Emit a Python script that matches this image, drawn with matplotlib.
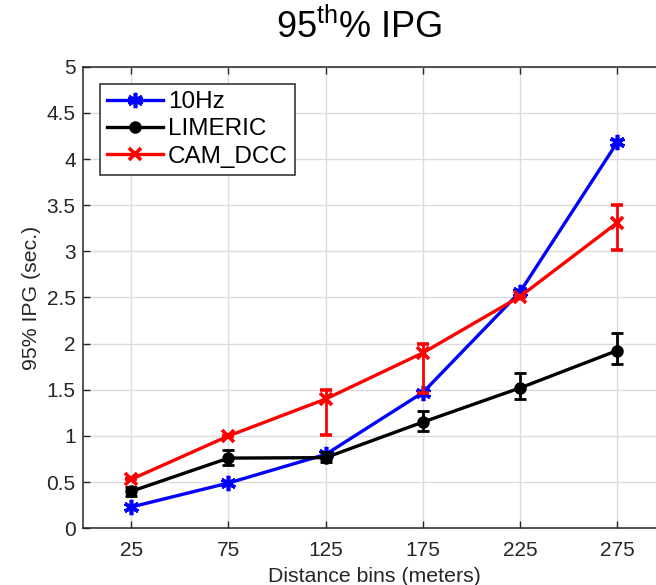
import numpy as np
import matplotlib
matplotlib.use("Agg")
import matplotlib.pyplot as plt

plt.rcParams['font.family'] = ['Liberation Sans', 'DejaVu Sans']
plt.rcParams['mathtext.fontset'] = 'custom'
plt.rcParams['mathtext.rm'] = 'Liberation Sans'

# data
bins = [25, 75, 125, 175, 225, 275]
hz10 = [0.23, 0.49, 0.80, 1.47, 2.56, 4.18]
limeric = [0.40, 0.76, 0.765, 1.15, 1.52, 1.925]
limeric_lo = [0.05, 0.07, 0.05, 0.10, 0.12, 0.145]
limeric_hi = [0.05, 0.09, 0.06, 0.12, 0.16, 0.195]
camdcc = [0.53, 1.00, 1.40, 1.90, 2.51, 3.31]
camdcc_lo = [0.0, 0.0, 0.39, 0.43, 0.0, 0.30]
camdcc_hi = [0.0, 0.0, 0.10, 0.10, 0.0, 0.19]

fig = plt.figure(figsize=(6.56, 5.85), dpi=100)
ax = fig.add_axes([0.126, 0.097, 0.889, 0.789])

# 10Hz, asterisk marker (no visible error bars)
l1, = ax.plot(bins, hz10, color='#0000ff', lw=2.4, marker=(6, 2, 0), ms=11,
              mew=2.6, label='10Hz', zorder=3)
e2 = ax.errorbar(bins, limeric, yerr=[limeric_lo, limeric_hi], color='black', lw=2.4,
                 marker='o', ms=8, capsize=4, capthick=2, elinewidth=2,
                 label='LIMERIC', zorder=3)
e3 = ax.errorbar(bins, camdcc, yerr=[camdcc_lo, camdcc_hi], color='#ff0000', lw=2.4,
                 marker='x', ms=9, mew=2.6, capsize=4, capthick=2, elinewidth=2,
                 label='CAM_DCC', zorder=4)

ax.set_xlim(0, 300)
ax.set_ylim(0, 5)
ax.set_xticks(bins)
ax.set_yticks(np.arange(0, 5.01, 0.5))
ax.set_yticklabels(['0', '0.5', '1', '1.5', '2', '2.5', '3', '3.5', '4', '4.5', '5'])
ax.grid(True, color='#dcdcdc', lw=1)
ax.set_axisbelow(True)
ax.tick_params(direction='in', length=5, width=1, colors='#262626',
               labelsize=15, top=True, right=True, pad=5)
ax.tick_params(axis='x', pad=9)
for s in ax.spines.values():
    s.set_color('#262626')
    s.set_linewidth(1.1)

ax.set_xlabel('Distance bins (meters)', fontsize=15.3, color='#262626', labelpad=5)
ax.set_ylabel('95% IPG (sec.)', fontsize=15.3, color='#262626', labelpad=4)

fig.text(0.547, 0.954, r'95$^{\mathrm{th}}$% IPG', fontsize=26, ha='center', va='center')

# legend shows only line + marker, like the reference
leg = ax.legend([l1, e2[0], e3[0]], ['10Hz', 'LIMERIC', 'CAM_DCC'],
                loc='upper left', bbox_to_anchor=(0.030, 0.963), fontsize=17.5,
                fancybox=False, edgecolor='#262626', framealpha=1,
                handlelength=2.3, handletextpad=0.2, borderpad=0.3,
                labelspacing=0.22, borderaxespad=0)
leg.get_frame().set_linewidth(1.1)

fig.savefig('out.png', dpi=100)
